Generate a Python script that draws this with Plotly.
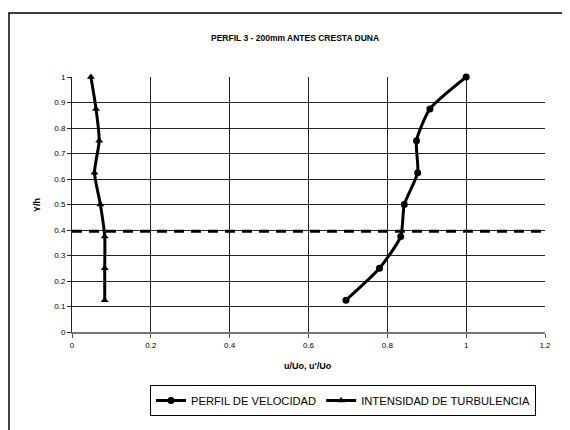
import plotly.graph_objects as go

y_levels = [1.0, 0.875, 0.75, 0.625, 0.5, 0.375, 0.25, 0.125]
velocidad = [1.0, 0.908, 0.874, 0.877, 0.843, 0.834, 0.78, 0.695]
turbulencia = [0.048, 0.061, 0.069, 0.057, 0.072, 0.083, 0.083, 0.083]
ref_x = [0.0, 1.2]
ref_y = [0.395, 0.395]
x_ticks = [0, 0.2, 0.4, 0.6, 0.8, 1, 1.2]
x_labels = ["0", "0.2", "0.4", "0.6", "0.8", "1", "1.2"]
y_ticks = [0, 0.1, 0.2, 0.3, 0.4, 0.5, 0.6, 0.7, 0.8, 0.9, 1]
y_labels = ["0", "0.1", "0.2", "0.3", "0.4", "0.5", "0.6", "0.7", "0.8", "0.9", "1"]

# page body has an 8px margin; figure coordinates = screen - 8
W, H = 570, 430
L, T = 64, 69
pw, ph = 473, 255
R, B = W - L - pw, H - T - ph


def px(xs):
    return (xs - L) / pw


def py(ys):
    return (T + ph - ys) / ph


fig = go.Figure()
fig.add_trace(go.Scatter(
    x=ref_x, y=ref_y, mode="lines", showlegend=False,
    line=dict(color="black", width=3, dash="10px,7px"), hoverinfo="skip"))
fig.add_trace(go.Scatter(
    x=velocidad, y=y_levels, mode="lines+markers", name="PERFIL DE VELOCIDAD",
    line=dict(color="black", width=3, shape="spline", smoothing=0.6),
    marker=dict(symbol="circle", size=7, color="black"), cliponaxis=False))
fig.add_trace(go.Scatter(
    x=turbulencia, y=y_levels, mode="lines+markers", name="INTENSIDAD DE TURBULENCIA",
    line=dict(color="black", width=3, shape="spline", smoothing=0.6),
    marker=dict(symbol="triangle-up", size=7, color="black"), cliponaxis=False))

fig.update_layout(
    width=W, height=H,
    margin=dict(l=L, r=R, t=T, b=B, autoexpand=False),
    paper_bgcolor="white", plot_bgcolor="white",
    font=dict(family="Liberation Sans, Arial, sans-serif", size=8, color="black"),
    showlegend=True,
    legend=dict(orientation="h", x=px(142), y=py(377),
                xanchor="left", yanchor="top",
                bordercolor="black", borderwidth=1, bgcolor="white",
                font=dict(size=11.2), itemwidth=30, tracegroupgap=0),
    annotations=[
        dict(text="<b>PERFIL 3 - 200mm ANTES CRESTA DUNA</b>", xref="paper", yref="paper",
             x=px(287), y=py(30), showarrow=False,
             font=dict(size=8.5), xanchor="center", yanchor="middle"),
        dict(text="<b>Y/h</b>", xref="paper", yref="paper",
             x=px(29), y=py(197), showarrow=False,
             textangle=-90, font=dict(size=9), xanchor="center", yanchor="middle"),
        dict(text="<b>u/Uo, u'/Uo</b>", xref="paper", yref="paper",
             x=px(300), y=py(358), showarrow=False,
             font=dict(size=9), xanchor="center", yanchor="middle"),
    ],
    shapes=[
        dict(type="rect", xref="paper", yref="paper",
             x0=px(1), x1=px(620), y0=py(480), y1=py(5),
             line=dict(color="black", width=1.5), fillcolor="rgba(0,0,0,0)", layer="below"),
    ],
)
fig.update_xaxes(range=[0, 1.2], tickvals=x_ticks, ticktext=x_labels,
                 showgrid=True, gridcolor="#222", gridwidth=1, zeroline=False,
                 showline=True, linecolor="#777", linewidth=2,
                 ticks="outside", ticklen=4, tickcolor="#555")
fig.update_yaxes(range=[0, 1], tickvals=y_ticks, ticktext=y_labels,
                 showgrid=True, gridcolor="#222", gridwidth=1, zeroline=False,
                 showline=True, linecolor="#222", linewidth=1,
                 ticks="outside", ticklen=4, tickcolor="#222")

fig.write_html("out.html")
